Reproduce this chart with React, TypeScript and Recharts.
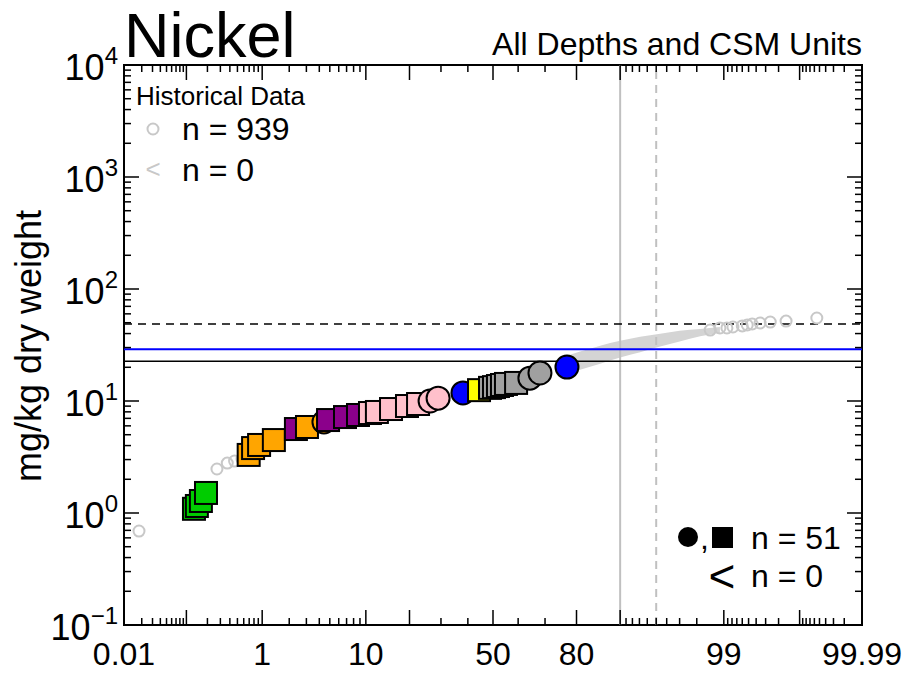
import { Area, ComposedChart, ReferenceArea, ReferenceLine, Scatter, XAxis, YAxis } from "recharts"

const W = 907
const H = 673
const PLOT_L = 124
const PLOT_R = 862
const PLOT_T = 65
const PLOT_B = 625
const FONT = '"Liberation Sans", Arial, Helvetica, sans-serif'

// probability axis, in percent
const probMajor = [0.1, 1, 10, 20, 50, 80, 90, 99, 99.9]
const probMinor = [
  0.02, 0.03, 0.04, 0.05, 0.06, 0.07, 0.08, 0.09,
  0.2, 0.3, 0.4, 0.5, 0.6, 0.7, 0.8, 0.9,
  2, 3, 4, 5, 6, 7, 8, 9,
  30, 40, 60, 70,
  91, 92, 93, 94, 95, 96, 97, 98,
  99.1, 99.2, 99.3, 99.4, 99.5, 99.6, 99.7, 99.8,
  99.91, 99.92, 99.93, 99.94, 99.95, 99.96, 99.97, 99.98,
]
const probLabels = [0.01, 1, 10, 50, 80, 99, 99.99]

// concentration axis, mg/kg
const decades = [0.1, 1, 10, 100, 1000, 10000]
const decadeExp = ["\u22121", "0", "1", "2", "3", "4"]
const minorMult = [2, 3, 4, 5, 6, 7, 8, 9]

// screening levels
const pecLevel = 48.6
const blueLevel = 29
const tecLevel = 22.7
const pct90 = 90
const pct95 = 95

// historical data (grey open circles) where they show in the tails: [percent, mg/kg]
const historical: [number, number][] = [
  [0.018, 0.69], [0.27, 2.47], [0.37, 2.79], [0.46, 2.91], [0.57, 3.03],
  [98.57, 43.0], [98.89, 44.9], [99.08, 44.9], [99.22, 45.8], [99.4, 46.8],
  [99.48, 47.7], [99.55, 48.7], [99.645, 49.7], [99.74, 50.7], [99.843, 51.7], [99.945, 55.1],
]
// dense middle of historical data: [percent, low, high]
const historicalBand: [number, number, number][] = [
  [75.0, 16.5, 24.2], [81.0, 19.0, 27.6], [86.0, 21.5, 31.2], [90.0, 24.4, 34.5],
  [93.1, 27.2, 37.5], [95.4, 30.6, 39.8], [97.0, 34.0, 42.4], [98.16, 37.8, 44.0], [98.89, 40.5, 45.8],
]

// CSM samples: [percent, mg/kg]
const greenSquares: [number, number][] = [[0.129, 1.09], [0.142, 1.155], [0.162, 1.28], [0.191, 1.51]]
const orangeSquares: [number, number][] = [[0.69, 3.3], [0.78, 3.8], [0.92, 4.05], [1.36, 4.48], [3.04, 5.86]]
const orangeCircles: [number, number][] = [[4.42, 6.49]]
const purpleSquares: [number, number][] = [[2.35, 5.62], [4.82, 6.76], [6.79, 7.19], [8.68, 7.5]]
const pinkSquares: [number, number][] = [[10.75, 7.81], [12.1, 7.98], [15.2, 8.48], [19.3, 9.02], [22.5, 9.4]]
const pinkCircles: [number, number][] = [[26.3, 10.0], [29.0, 10.6]]
const blueCircles: [number, number][] = [[38.1, 11.8], [77.2, 20.1]]
const yellowSquares: [number, number][] = [[44.4, 12.5]]
const graySquares: [number, number][] = [[48.8, 13.1], [50.4, 13.3], [52.0, 13.6], [53.6, 13.9], [55.2, 14.2], [59.2, 14.5]]
const grayCircles: [number, number][] = [[64.5, 16.0], [68.2, 17.8]]

// inverse normal cdf (Acklam)
function probit(p: number) {
  const a = [-39.69683028665376, 220.9460984245205, -275.9285104469687, 138.357751867269, -30.66479806614716, 2.506628277459239]
  const b = [-54.47609879822406, 161.5858368580409, -155.6989798598866, 66.80131188771972, -13.28068155288572]
  const c = [-0.007784894002430293, -0.3223964580411365, -2.400758277161838, -2.549671324363932, 4.374664141464968, 2.938163982698783]
  const d = [0.007784695709041462, 0.3224671290700398, 2.445134137142996, 3.754408661907416]
  const pl = 0.02425
  if (p < pl) {
    const q = Math.sqrt(-2 * Math.log(p))
    return (((((c[0] * q + c[1]) * q + c[2]) * q + c[3]) * q + c[4]) * q + c[5]) / ((((d[0] * q + d[1]) * q + d[2]) * q + d[3]) * q + 1)
  }
  if (p > 1 - pl) {
    const q = Math.sqrt(-2 * Math.log(1 - p))
    return -(((((c[0] * q + c[1]) * q + c[2]) * q + c[3]) * q + c[4]) * q + c[5]) / ((((d[0] * q + d[1]) * q + d[2]) * q + d[3]) * q + 1)
  }
  const q = p - 0.5
  const r = q * q
  return ((((((a[0] * r + a[1]) * r + a[2]) * r + a[3]) * r + a[4]) * r + a[5]) * q) / (((((b[0] * r + b[1]) * r + b[2]) * r + b[3]) * r + b[4]) * r + 1)
}
const toZ = (pct: number) => probit(pct / 100)
const Z_MIN = toZ(0.01)
const Z_MAX = toZ(99.99)

type XInfo = { z: number; len: number; label?: string }
const xTicks: XInfo[] = [
  ...probMinor.map((p) => ({ z: toZ(p), len: 7 })),
  ...probMajor.map((p) => ({ z: toZ(p), len: 15, label: probLabels.includes(p) ? String(p) : undefined })),
  { z: Z_MIN, len: 0, label: "0.01" },
  { z: Z_MAX, len: 0, label: "99.99" },
]

type YInfo = { v: number; len: number; exp?: string }
const yTicks: YInfo[] = [
  ...decades.map((v, i) => ({ v, len: 15, exp: decadeExp[i] })),
  ...decades.slice(0, -1).flatMap((v) => minorMult.map((m) => ({ v: v * m, len: 7 }))),
]

const bandData = historicalBand.map(([p, lo, hi]) => ({ z: toZ(p), range: [lo, hi] }))
const histData = historical.map(([p, v]) => ({ z: toZ(p), v }))

const groups: { pts: [number, number][]; color: string; shape: string }[] = [
  { pts: greenSquares, color: "#00cc00", shape: "square" },
  { pts: orangeSquares, color: "#ffa500", shape: "square" },
  { pts: orangeCircles, color: "#ffa500", shape: "circle" },
  { pts: purpleSquares, color: "#8b008b", shape: "square" },
  { pts: pinkSquares, color: "#ffc0cb", shape: "square" },
  { pts: pinkCircles, color: "#ffc0cb", shape: "circle" },
  { pts: blueCircles, color: "#0000ff", shape: "circle" },
  { pts: yellowSquares, color: "#ffff00", shape: "square" },
  { pts: graySquares, color: "#a0a0a0", shape: "square" },
  { pts: grayCircles, color: "#a0a0a0", shape: "circle" },
]
const sampleData = groups
  .flatMap((g) => g.pts.map(([p, v]) => ({ p, z: toZ(p), v, color: g.color, shape: g.shape })))
  .sort((a, b) => a.p - b.p)

const XTick = (props: any) => {
  const { x, payload } = props
  const t = xTicks.find((k) => Math.abs(k.z - payload.value) < 1e-9)
  if (!t) return null
  return (
    <g>
      {t.len > 0 && <line x1={x} x2={x} y1={PLOT_B} y2={PLOT_B - t.len} stroke="#000" strokeWidth={1.5} />}
      {t.len > 0 && <line x1={x} x2={x} y1={PLOT_T} y2={PLOT_T + t.len} stroke="#000" strokeWidth={1.5} />}
      {t.label && (
        <text x={x} y={665} textAnchor="middle" fontSize={32} fontFamily={FONT} fill="#000">
          {t.label}
        </text>
      )}
    </g>
  )
}

const YTick = (props: any) => {
  const { y, payload } = props
  const t = yTicks.find((k) => Math.abs(k.v - payload.value) < 1e-9 * k.v)
  if (!t) return null
  return (
    <g>
      <line x1={PLOT_L} x2={PLOT_L + t.len} y1={y} y2={y} stroke="#000" strokeWidth={1.5} />
      <line x1={PLOT_R} x2={PLOT_R - t.len} y1={y} y2={y} stroke="#000" strokeWidth={1.5} />
      {t.exp && (
        <text x={118} y={y + 15} textAnchor="end" fontFamily={FONT} fill="#000">
          <tspan fontSize={36}>10</tspan>
          <tspan fontSize={24} dy={-16}>{t.exp}</tspan>
        </text>
      )}
    </g>
  )
}

const Marker = (props: any) => {
  const { cx, cy, payload } = props
  if (payload.shape === "square") {
    return <rect x={cx - 11} y={cy - 11} width={22} height={22} fill={payload.color} stroke="#000" strokeWidth={2} />
  }
  return <circle cx={cx} cy={cy} r={11.5} fill={payload.color} stroke="#000" strokeWidth={2} />
}

const OpenCircle = (props: any) => <circle cx={props.cx} cy={props.cy} r={5.5} fill="none" stroke="#c8c8c8" strokeWidth={2} />

export default function App() {
  return (
    <div style={{ position: "absolute", left: 0, top: 0, width: W, height: H, background: "#fff" }}>
      <ComposedChart width={W} height={H} data={bandData} margin={{ top: PLOT_T, right: W - PLOT_R, bottom: 0, left: 0 }}>
        <XAxis
          type="number"
          dataKey="z"
          domain={[Z_MIN, Z_MAX]}
          allowDataOverflow
          ticks={xTicks.map((t) => t.z)}
          interval={0}
          tickLine={false}
          axisLine={false}
          height={H - PLOT_B}
          tick={(p: any) => <XTick {...p} />}
        />
        <YAxis
          type="number"
          dataKey="v"
          scale="log"
          domain={[0.1, 10000]}
          allowDataOverflow
          ticks={yTicks.map((t) => t.v)}
          interval={0}
          tickLine={false}
          axisLine={false}
          width={PLOT_L}
          tick={(p: any) => <YTick {...p} />}
        />
        <Area dataKey="range" type="monotone" stroke="none" fill="#d4d4d4" fillOpacity={1} isAnimationActive={false} />
        <ReferenceLine x={toZ(pct90)} stroke="#c0c0c0" strokeWidth={2} />
        <ReferenceLine x={toZ(pct95)} stroke="#c0c0c0" strokeWidth={2} strokeDasharray="8 6" />
        <ReferenceLine y={pecLevel} stroke="#000" strokeWidth={1.5} strokeDasharray="8 6" />
        <ReferenceLine y={blueLevel} stroke="#0000ff" strokeWidth={2} />
        <ReferenceLine y={tecLevel} stroke="#000" strokeWidth={1.5} />
        <Scatter data={histData} shape={(p: any) => <OpenCircle {...p} />} isAnimationActive={false} />
        <Scatter data={sampleData} shape={(p: any) => <Marker {...p} />} isAnimationActive={false} />
        <ReferenceArea x1={Z_MIN} x2={Z_MAX} y1={0.1} y2={10000} fill="none" fillOpacity={0} stroke="#000" strokeWidth={2} ifOverflow="visible" />
      </ComposedChart>
      <svg width={W} height={H} style={{ position: "absolute", left: 0, top: 0, pointerEvents: "none" }} fontFamily={FONT}>
        <text x={124} y={57} fontSize={63}>Nickel</text>
        <text x={862} y={55} fontSize={32} textAnchor="end">All Depths and CSM Units</text>
        <text transform="translate(41,346) rotate(-90)" fontSize={36} textAnchor="middle">mg/kg dry weight</text>
        <text x={136} y={105} fontSize={26}>Historical Data</text>
        <circle cx={153} cy={129} r={5.5} fill="none" stroke="#c8c8c8" strokeWidth={2} />
        <text x={182} y={140} fontSize={32}>n = 939</text>
        <text x={153} y={178} fontSize={26} fill="#c8c8c8" textAnchor="middle">&lt;</text>
        <text x={182} y={181} fontSize={32}>n = 0</text>
        <circle cx={688} cy={537} r={10} fill="#000" />
        <text x={700} y={549} fontSize={32}>,</text>
        <rect x={712} y={527} width={21} height={21} fill="#000" />
        <text x={751} y={549} fontSize={32}>n = 51</text>
        <text x={722} y={592} fontSize={46} textAnchor="middle">&lt;</text>
        <text x={751} y={587} fontSize={32}>n = 0</text>
      </svg>
    </div>
  )
}
